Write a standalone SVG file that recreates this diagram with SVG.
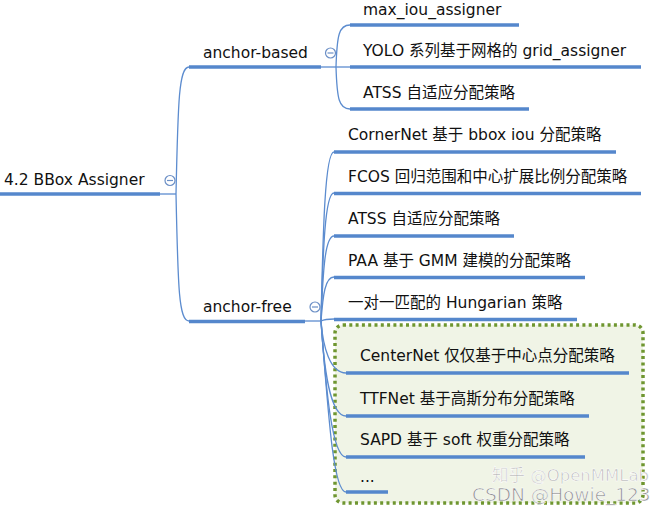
<svg xmlns="http://www.w3.org/2000/svg" width="657" height="512" viewBox="0 0 657 512">
<style>
  .t { font-family: "DejaVu Sans", "Noto Sans CJK SC", sans-serif; font-size: 15.5px; fill: #111; }
  .ul { stroke: #5587cc; stroke-width: 3.5; fill: none; }
  .cn { stroke: #5c8ccf; stroke-width: 1.3; fill: none; }
  .btn { fill: #fff; stroke: #6b8fc6; stroke-width: 1.2; }
  .btnm { stroke: #6b8fc6; stroke-width: 1.2; }
  .wm { font-family: "DejaVu Sans", "Noto Sans CJK SC", sans-serif; stroke: #ffffff; stroke-width: 0.6; }
</style>
<rect width="657" height="512" fill="#ffffff"/>

<g id="boundary">
  <rect x="335" y="325" width="308" height="178" rx="8" fill="#f0f4e6" stroke="#6f9630" stroke-width="3.5" stroke-dasharray="3 3.3"/>
</g>

<g id="connectors">
  <path class="cn" d="M160 194 L176 194"/>
  <path class="cn" d="M176 194 C178 100 179 67 189 67"/>
  <path class="cn" d="M176 194 C178 290 179 321 189 321"/>
  <path class="cn" d="M321 67 L350 67"/>
  <path class="cn" d="M336 67 C337 35 339 25 350 25"/>
  <path class="cn" d="M336 67 C337 99 339 109 350 109"/>
  <path class="cn" d="M305 321 L321 321"/>
  <path class="cn" d="M321 321 C323 230 325 152 334 152"/>
  <path class="cn" d="M321 321 C323 250 325 193 334 193"/>
  <path class="cn" d="M321 321 C323 270 325 236 334 236"/>
  <path class="cn" d="M321 321 C323 295 325 277 334 277"/>
  <path class="cn" d="M321 321 C325 319 328 319 334 319"/>
  <path class="cn" d="M321 321 C323 347 330 373 346 373"/>
  <path class="cn" d="M321 321 C324 370 330 416 346 416"/>
  <path class="cn" d="M321 321 C326 390 332 457 346 457"/>
  <path class="cn" d="M321 321 C328 410 333 492 346 492"/>
</g>

<g id="root">
  <line class="ul" x1="0" y1="194" x2="160" y2="194"/>
  <text class="t" x="4" y="185">4.2 BBox Assigner</text>
  <circle class="btn" cx="170" cy="180.5" r="5"/>
  <line class="btnm" x1="167" y1="180.5" x2="173" y2="180.5"/>
</g>

<g id="anchor-based">
  <line class="ul" x1="189" y1="67" x2="321" y2="67"/>
  <text class="t" x="203" y="58">anchor-based</text>
  <circle class="btn" cx="330.5" cy="53" r="5"/>
  <line class="btnm" x1="327.5" y1="53" x2="333.5" y2="53"/>
</g>

<g id="anchor-free">
  <line class="ul" x1="189" y1="321.5" x2="305" y2="321.5"/>
  <text class="t" x="203" y="312">anchor-free</text>
  <circle class="btn" cx="315" cy="307" r="5"/>
  <line class="btnm" x1="312" y1="307" x2="318" y2="307"/>
</g>

<g id="max-iou">
  <line class="ul" x1="350" y1="25" x2="519" y2="25"/>
  <text class="t" x="363" y="15">max_iou_assigner</text>
</g>
<g id="yolo">
  <line class="ul" x1="350" y1="67" x2="641" y2="67"/>
  <text class="t" x="363" y="56">YOLO 系列基于网格的 grid_assigner</text>
</g>
<g id="atss-ab">
  <line class="ul" x1="350" y1="109" x2="529" y2="109"/>
  <text class="t" x="363" y="98">ATSS 自适应分配策略</text>
</g>

<g id="cornernet">
  <line class="ul" x1="334" y1="152" x2="616" y2="152"/>
  <text class="t" x="348" y="140">CornerNet 基于 bbox iou 分配策略</text>
</g>
<g id="fcos">
  <line class="ul" x1="334" y1="193.5" x2="641" y2="193.5"/>
  <text class="t" x="348" y="182">FCOS 回归范围和中心扩展比例分配策略</text>
</g>
<g id="atss-af">
  <line class="ul" x1="334" y1="236" x2="514" y2="236"/>
  <text class="t" x="348" y="224">ATSS 自适应分配策略</text>
</g>
<g id="paa">
  <line class="ul" x1="334" y1="277.5" x2="585" y2="277.5"/>
  <text class="t" x="348" y="266">PAA 基于 GMM 建模的分配策略</text>
</g>
<g id="hungarian">
  <line class="ul" x1="334" y1="319.5" x2="577" y2="319.5"/>
  <text class="t" x="348" y="308">一对一匹配的 Hungarian 策略</text>
</g>

<g id="centernet">
  <line class="ul" x1="346" y1="373" x2="629" y2="373"/>
  <text class="t" x="360" y="361">CenterNet 仅仅基于中心点分配策略</text>
</g>
<g id="ttfnet">
  <line class="ul" x1="346" y1="416" x2="589" y2="416"/>
  <text class="t" x="360" y="404">TTFNet 基于高斯分布分配策略</text>
</g>
<g id="sapd">
  <line class="ul" x1="346" y1="457" x2="585" y2="457"/>
  <text class="t" x="360" y="445">SAPD 基于 soft 权重分配策略</text>
</g>
<g id="more">
  <line class="ul" x1="346" y1="492" x2="388" y2="492"/>
  <text class="t" x="360" y="482">...</text>
</g>

<g id="watermark">
  <text class="wm" x="492" y="481" font-size="16.5" fill="#b4b4b4">知乎 @OpenMMLab</text>
  <text class="wm" x="472" y="501" font-size="18.5" fill="#8e8e8e">CSDN @Howie_123</text>
</g>
</svg>
